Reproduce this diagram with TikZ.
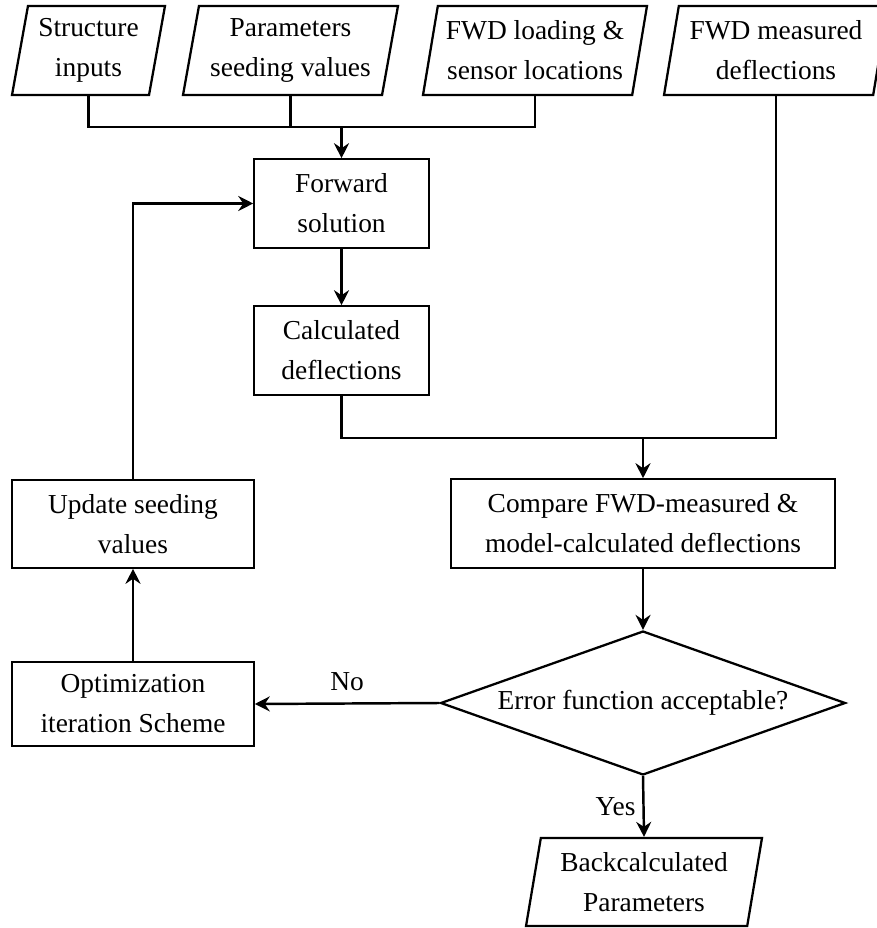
\documentclass[tikz,border=0pt]{standalone}
\usepackage{fontspec}
\setmainfont{Liberation Serif}
\usepackage{tikz}
\usetikzlibrary{arrows.meta}
\usetikzlibrary{shapes.geometric}

\begin{document}
\begin{tikzpicture}[x=0.02cm, y=-0.02cm,
    font=\fontsize{15.6pt}{22.8pt}\selectfont,
    box/.style={draw, line width=0.9pt, align=center, minimum height=1.78cm, inner sep=0pt},
    data/.style={draw, line width=1.3pt, trapezium, trapezium left angle=76, trapezium right angle=104,
        trapezium stretches body, align=center, minimum height=1.78cm, inner sep=0pt},
    test/.style={draw, line width=1.3pt, diamond, aspect=2.8125, align=center, minimum width=8.1cm, minimum height=2.88cm, inner sep=0pt},
    wire/.style={line width=1.4pt},
    link/.style={line width=1.4pt, -{Stealth[length=0.3cm, width=0.3cm, inset=0.1cm]}}]
        \useasboundingbox (0,0) rectangle (876,928);

        % Inputs
        \node[data, minimum width=3.06cm] (sinp) at (88.5,50.5) {Structure\\inputs};
        \node[data, minimum width=4.3cm] (seed) at (290.5,50.5) {Parameters\\seeding values};
        \node[data, minimum width=4.48cm] (load) at (535,50.5) {FWD loading \&\\sensor locations};
        \node[data, minimum width=4.48cm] (meas) at (776,50.5) {FWD measured\\deflections};

        % Forward model
        \node[box, minimum width=3.5cm] (fwd) at (341.5,203.5) {Forward\\solution};
        \node[box, minimum width=3.5cm] (calc) at (341.5,350.5) {Calculated\\deflections};
        \node[box, minimum width=7.68cm] (cmp) at (643,523.5) {Compare FWD-measured \&\\model-calculated deflections};
        \node[test] (err) at (643,703) {Error function acceptable?};

        % Iteration
        \node[box, minimum width=4.84cm, minimum height=1.76cm] (upd) at (133,524) {Update seeding\\values};
        \node[box, minimum width=4.84cm, minimum height=1.68cm] (opt) at (133,704) {Optimization\\iteration Scheme};

        % Result
        \node[data, minimum width=4.72cm, minimum height=1.76cm] (back) at (644,882) {Backcalculated\\Parameters};

        % Junctions
        \coordinate (jn) at (341.5,127);
        \coordinate (jm) at (643,438);

        % Connectors
        \draw[wire] (sinp.south) |- (jn) -| (load.south);
        \draw[wire] (seed.south) -- (seed.south |- jn);
        \draw[link] (jn) -- (fwd.north);
        \draw[link] (fwd) -- (calc);
        \draw[wire] (calc.south) |- (jm);
        \draw[wire] (meas.south) |- (jm);
        \draw[link] (jm) -- (cmp.north);
        \draw[link] (cmp) -- (err);
        \draw[link] (err.west) -- node[above=3.5pt] {No} (opt.east);
        \draw[link] (opt) -- (upd);
        \draw[link] (upd.north) |- (fwd.west);
        \draw[link] (err.south) -- node[left=0.5pt] {Yes} (back.north);
    \end{tikzpicture}
\end{document}
